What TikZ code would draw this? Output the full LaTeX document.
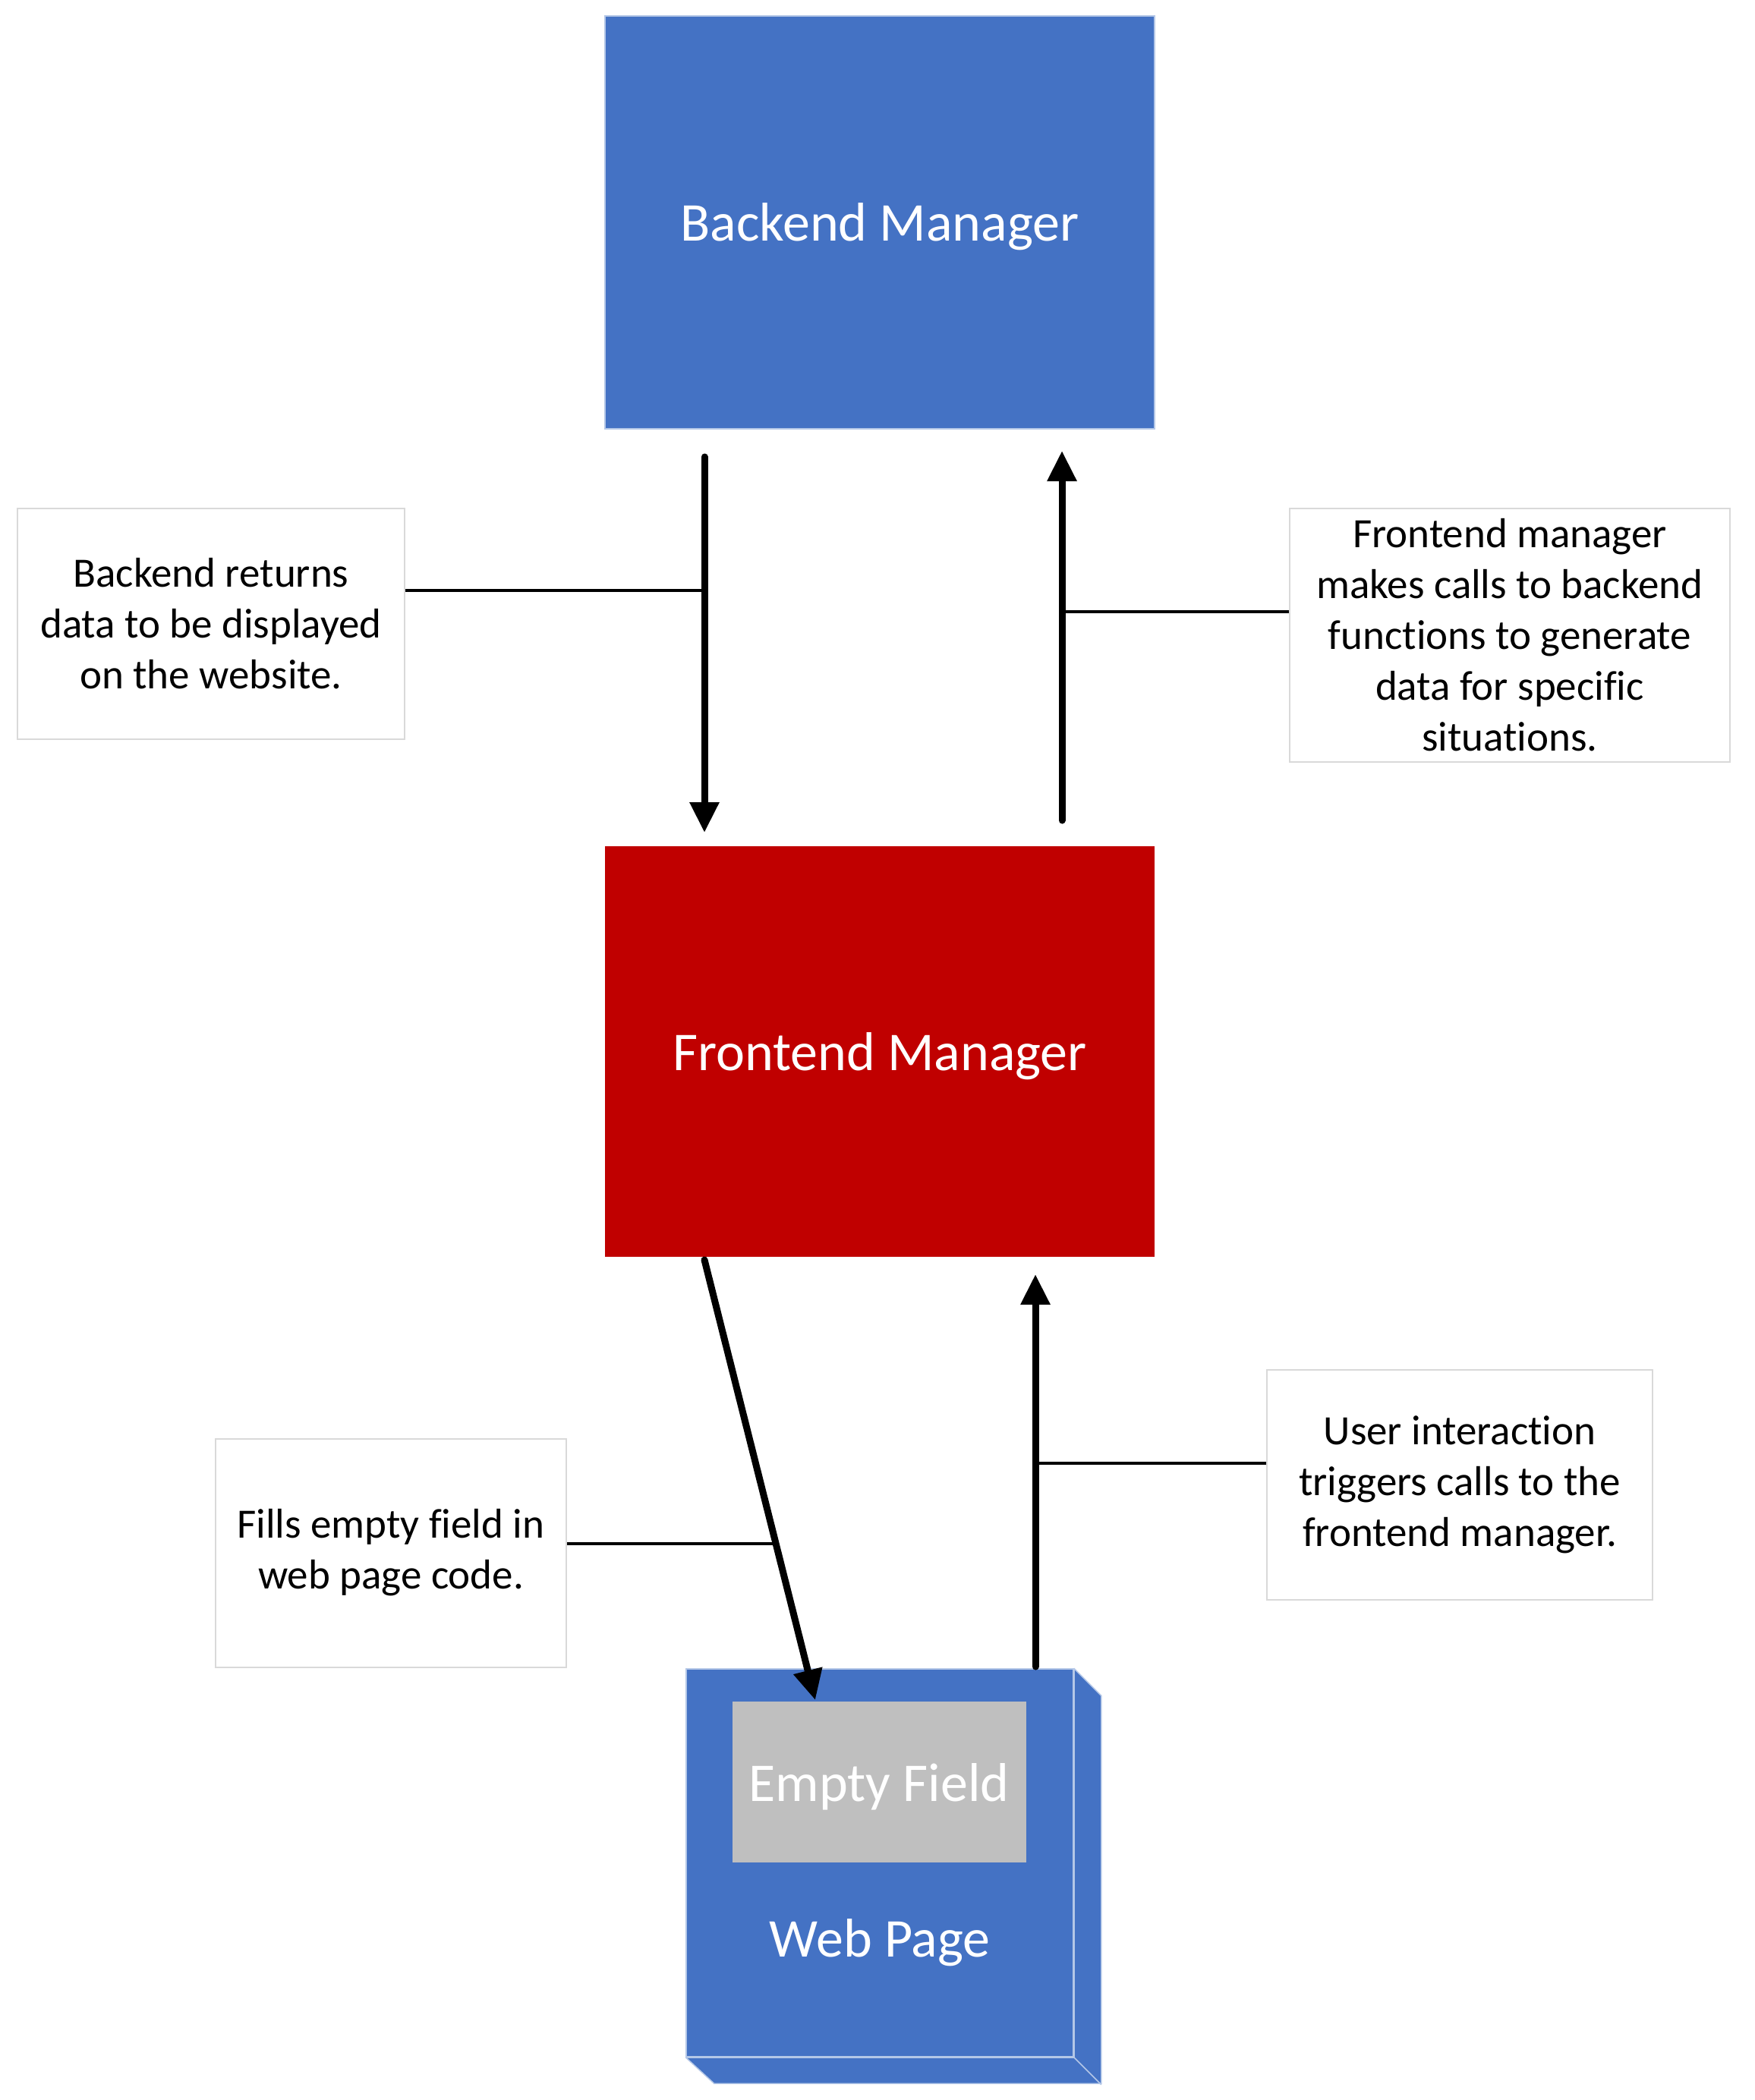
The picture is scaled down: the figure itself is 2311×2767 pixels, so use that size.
\documentclass[tikz,border=0pt]{standalone}
\usepackage{fontspec}
\setmainfont[RawFeature={-liga;-dlig;-clig}]{Carlito}
\usetikzlibrary{arrows.meta,calc}
\definecolor{bmblue}{HTML}{4472C4}
\definecolor{fmred}{HTML}{C00000}
\definecolor{fieldgray}{HTML}{BFBFBF}
\definecolor{calloutline}{HTML}{D9D9D9}
\definecolor{edgeline}{HTML}{B4C7E7}
\begin{document}
\begin{tikzpicture}[x=1pt,y=-1pt,
  mgr/.style={minimum width=724pt, inner sep=0pt, text=white, text depth=0pt, font=\fontsize{72}{86}\selectfont},
  bigtext/.style={inner sep=0pt, text=white, text depth=0pt, font=\fontsize{72}{86}\selectfont},
  callout/.style={draw=calloutline, line width=2pt, fill=white, inner sep=0pt, align=center, font=\fontsize{55}{67}\selectfont},
  flow/.style={line width=9pt, line cap=round, -{Triangle[width=37pt,length=40pt]}},
  lead/.style={line width=3.5pt},
  edge3d/.style={draw=edgeline, line width=1.5pt}]
\useasboundingbox (0,0) rectangle (2311,2767);

% managers
\node[mgr, fill=bmblue, draw=edgeline, line width=1.5pt, minimum height=544pt] (backend) at (1159,293) {Backend Manager};
\node[mgr, fill=fmred, minimum height=541pt] (frontend) at (1159,1385.5) {Frontend Manager};

% web page (3D box)
\node[edge3d, fill=bmblue, minimum width=510pt, minimum height=511pt, inner sep=0pt] (web) at (1159,2454.5) {};
\fill[bmblue] (web.north east) -- ++(36,36) -- ++(0,511) -- ++(-510,0) -- (web.south west) -- (web.south east) -- cycle;
\draw[edge3d] (web.north east) -- ++(36,36) -- ++(0,511) -- ++(-510,0) -- (web.south west);
\draw[edge3d] (web.south east) -- ++(36,36);
\draw[edge3d] (web.north east) -- (web.south east) -- (web.south west);
\node[fill=fieldgray, minimum width=387pt, minimum height=212pt, bigtext] (field) at (1158,2348) {Empty Field};
\node[bigtext] (weblabel) at (1159,2553) {Web Page};

% flow arrows
\coordinate (a1s) at (928,602);
\coordinate (a1e) at (928,1097);
\coordinate (a2s) at (1399,1081);
\coordinate (a2e) at (1399,594);
\coordinate (a3s) at (928,1660);
\coordinate (a3e) at (1074,2240);
\coordinate (a4s) at (1364,2196);
\coordinate (a4e) at (1364,1679);
\draw[flow] (a1s) -- (a1e);
\draw[flow] (a2s) -- (a2e);
\draw[flow] (a3s) -- (a3e);
\draw[flow] (a4s) -- (a4e);

% callouts
\node[callout, minimum width=510pt, minimum height=304pt] (c1) at (278,822) {Backend returns\\data to be displayed\\on the website.};
\node[callout, minimum width=580pt, minimum height=334pt] (c2) at (1989,837) {Frontend manager\\makes calls to backend\\functions to generate\\data for specific\\situations.};
\node[callout, minimum width=462pt, minimum height=301pt] (c3) at (515,2046) {Fills empty field in\\web page code.};
\node[callout, minimum width=508pt, minimum height=303pt] (c4) at (1923,1956) {User interaction\\triggers calls to the\\frontend manager.};

\coordinate (a3m) at ($(a3s)!0.645!(a3e)$);
\draw[lead] (c1.east |- 0,778) -- (a1s |- 0,778);
\draw[lead] (c2.west |- 0,806) -- (a2s |- 0,806);
\draw[lead] (c3.east |- a3m) -- (a3m);
\draw[lead] (c4.west |- 0,1928) -- (a4s |- 0,1928);
\end{tikzpicture}
\end{document}
